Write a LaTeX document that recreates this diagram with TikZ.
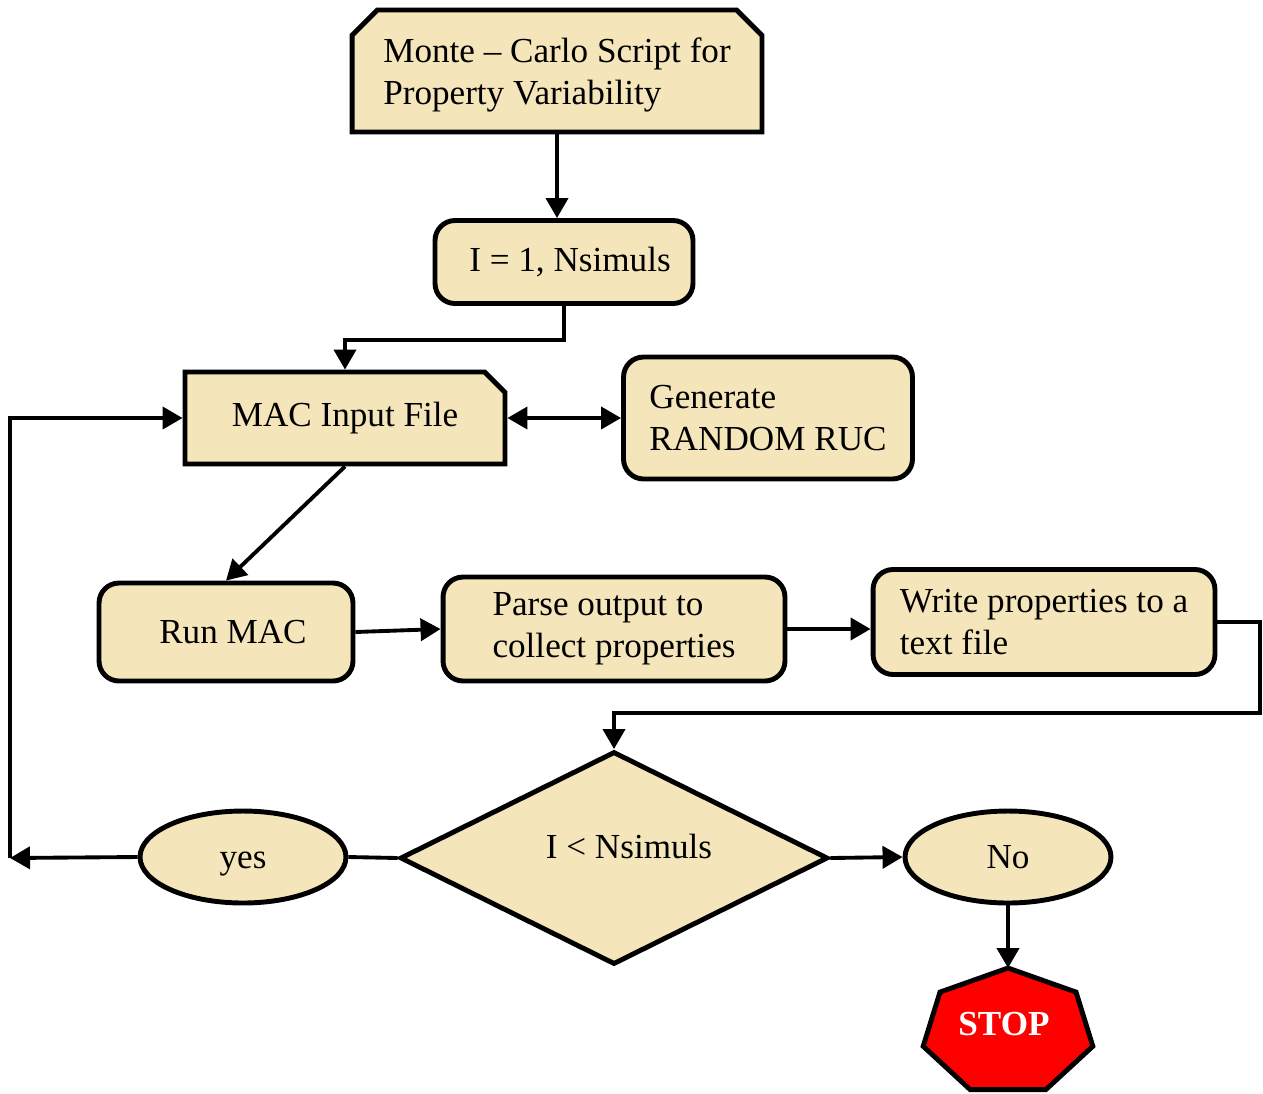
\documentclass[tikz,border=0pt]{standalone}
\usepackage{fontspec}
\setmainfont{Liberation Serif}
\usetikzlibrary{shapes.geometric,shapes.misc,arrows.meta}
\definecolor{boxfill}{RGB}{244,230,186}
\definecolor{stopred}{RGB}{255,0,0}
\tikzset{
  >={Triangle[length=0.4cm,width=0.44cm]},
  base/.style={draw=black,line width=2.8pt,fill=boxfill,font=\fontsize{20}{24}\selectfont,align=left,inner sep=0pt},
  rbox/.style={base,rectangle,rounded corners=0.4cm},
  cbox/.style={base,chamfered rectangle},
  oval/.style={base,ellipse,minimum width=4.12cm,minimum height=1.84cm,text height=13pt,text depth=0pt},
  conn/.style={line width=2.2pt},
}
\begin{document}
\begin{tikzpicture}[x=0.02cm,y=-0.02cm]
      \useasboundingbox (0,0) rectangle (1263,1093);
      \node[cbox,chamfered rectangle corners={north west,north east},chamfered rectangle xsep=0.4cm,minimum width=8.2cm,minimum height=2.44cm,text depth=0pt] (mc) at (557,71) {Monte -- Carlo Script for\\Property Variability};
      \node[rbox,minimum width=5.16cm,minimum height=1.66cm] (loop) at (564,262) {\hspace*{0.24cm}I = 1, Nsimuls};
      \node[cbox,chamfered rectangle corners=north east,chamfered rectangle xsep=0.3cm,minimum width=6.4cm,minimum height=1.84cm] (input) at (345,418) {MAC Input File};
      \node[rbox,minimum width=5.78cm,minimum height=2.44cm] (gen) at (768,418) {Generate\\RANDOM RUC};
      \node[rbox,minimum width=5.08cm,minimum height=1.96cm] (run) at (226,632) {\hspace*{0.28cm}Run MAC};
      \node[rbox,minimum width=6.84cm,minimum height=2.08cm] (parse) at (614,629) {Parse output to\\collect properties};
      \node[rbox,minimum width=6.84cm,minimum height=2.1cm] (write) at (1044,622) {Write properties to a\\text file};
      \node[base,diamond,aspect=2,minimum width=8.56cm,minimum height=4.26cm,text depth=13pt] (dec) at (614,858) {\hspace*{0.6cm}I < Nsimuls};
      \node[oval] (yes) at (243,857) {yes};
      \node[oval] (no) at (1008,857) {No};
      \filldraw[line width=2.8pt,fill=stopred] plot[samples at={0,...,6}] ({1008+87*cos(90+\x*360/7)},{1032-64*sin(90+\x*360/7)}) -- cycle;
      \node[text=white,font=\fontsize{20}{24}\selectfont\bfseries] (stop) at (1004,1024) {STOP};
      \coordinate (stoptop) at (1008,968);
      \coordinate (turn) at (1260,713);
      \coordinate (back) at (10,858);
      \draw[conn,->] (mc.south) -- (mc.south |- loop.north);
      \draw[conn,->] (loop.south) -- ++(0,34) -| (input.north);
      \draw[conn,<->] (input.east) -- (gen.west);
      \draw[conn,->] (input.south) -- (run.north);
      \draw[conn,->] (run.east) -- (parse.west);
      \draw[conn,->] (parse.east) -- (parse.east -| write.west);
      \draw[conn,->] (write.east) -| (turn) -| (dec.north);
      \draw[conn] (dec.west) -- (yes.east);
      \draw[conn,->] (yes.west) -- (back);
      \draw[conn,->] (back) |- (input.west);
      \draw[conn,->] (dec.east) -- (no.west);
      \draw[conn,->] (no.south) -- (stoptop);
    \end{tikzpicture}
\end{document}
